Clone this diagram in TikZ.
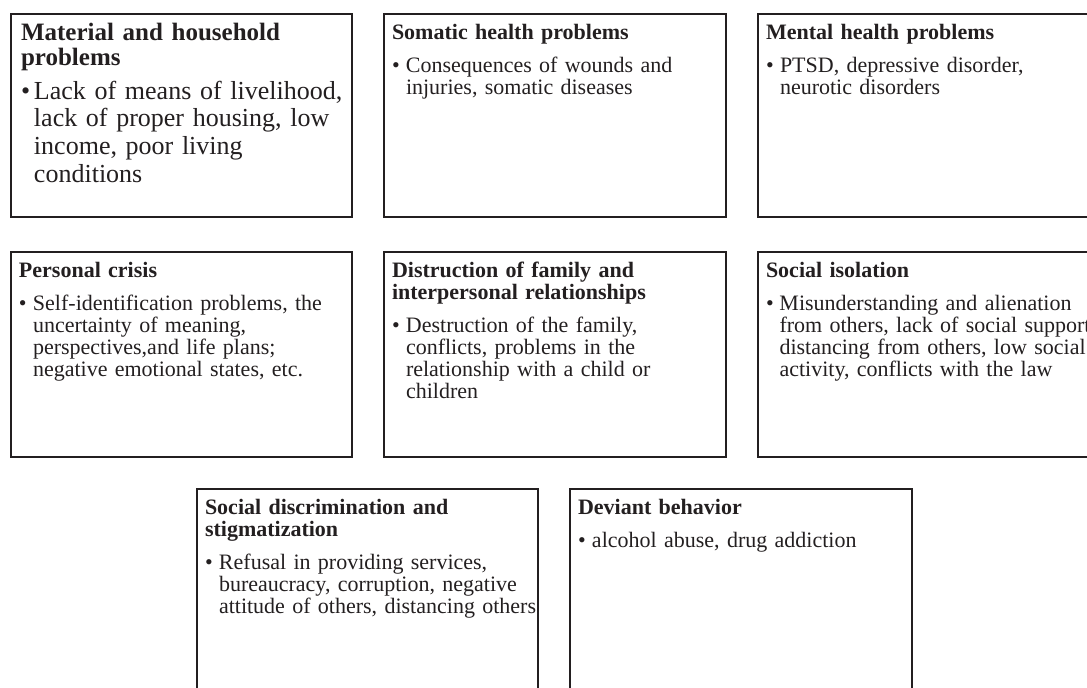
\documentclass[tikz,border=0pt]{standalone}
\usepackage{fontspec}
\setmainfont{Liberation Serif}
\usetikzlibrary{calc}
\definecolor{ink}{HTML}{231F20}
\tikzset{
  box/.style={draw=ink, line width=2.4pt, rectangle, anchor=north west, inner sep=0pt, outer sep=0pt},
  txt/.style={anchor=base west, inner sep=0pt, outer sep=0pt, align=left, text=ink, text width=420pt, font=\fontsize{22}{22}\selectfont},
  bigtxt/.style={txt, font=\fontsize{26}{27.7}\selectfont},
}
\newcommand{\hdx}[4]{{\fontsize{#1}{#2}\selectfont\bfseries #4\par}\vspace{#3}}
\newcommand{\blx}[2]{\noindent\makebox[#1][l]{\textbullet}\parbox[t]{380pt}{\raggedright #2}\par}
\begin{document}
\begin{tikzpicture}[x=1pt,y=-1pt]
\useasboundingbox (0,0) rectangle (1087,688);
% row 1
\node[box, minimum width=341pt, minimum height=203pt] (b1) at (11,14) {};
\node[box, minimum width=342pt, minimum height=203pt] (b2) at (384,14) {};
\node[box, minimum width=342pt, minimum height=203pt] (b3) at (758,14) {};
% row 2
\node[box, minimum width=341pt, minimum height=205pt] (b4) at (11,252) {};
\node[box, minimum width=342pt, minimum height=205pt] (b5) at (384,252) {};
\node[box, minimum width=342pt, minimum height=205pt] (b6) at (758,252) {};
% row 3
\node[box, minimum width=341pt, minimum height=240pt] (b7) at (197,489) {};
\node[box, minimum width=342pt, minimum height=240pt] (b8) at (570,489) {};
% texts
\node[bigtxt] (t1) at ($(b1.north west)+(10,26)$) {\hdx{25}{25}{6.3pt}{Material and household\\problems}\blx{13pt}{\baselineskip=27.7pt Lack of means of livelihood,\\lack of proper housing, low\\income, poor living\\conditions}};
\node[txt] (t2) at ($(b2.north west)+(8,25)$) {\hdx{22}{22}{11pt}{Somatic health problems}\blx{14pt}{Consequences of wounds and\\injuries, somatic diseases}};
\node[txt] (t3) at ($(b3.north west)+(8,25)$) {\hdx{22}{22}{11pt}{Mental health problems}\blx{14pt}{PTSD, depressive disorder,\\neurotic disorders}};
\node[txt] (t4) at ($(b4.north west)+(8,25)$) {\hdx{22}{22}{11pt}{Personal crisis}\blx{14pt}{Self-identification problems, the\\uncertainty of meaning,\\perspectives,and life plans;\\negative emotional states, etc.}};
\node[txt] (t5) at ($(b5.north west)+(8,25)$) {\hdx{22}{22}{11pt}{Distruction of family and\\interpersonal relationships}\blx{14pt}{Destruction of the family,\\conflicts, problems in the\\relationship with a child or\\children}};
\node[txt] (t6) at ($(b6.north west)+(8,25)$) {\hdx{22}{22}{11pt}{Social isolation}\blx{13.5pt}{Misunderstanding and alienation\\from others, lack of social support,\\distancing from others, low social\\activity, conflicts with the law}};
\node[txt] (t7) at ($(b7.north west)+(8,25)$) {\hdx{22}{22}{11pt}{Social discrimination and\\stigmatization}\blx{14pt}{Refusal in providing services,\\bureaucracy, corruption, negative\\attitude of others, distancing others}};
\node[txt] (t8) at ($(b8.north west)+(8,25)$) {\hdx{22}{22}{11pt}{Deviant behavior}\blx{14pt}{alcohol abuse, drug addiction}};
\end{tikzpicture}
\end{document}
